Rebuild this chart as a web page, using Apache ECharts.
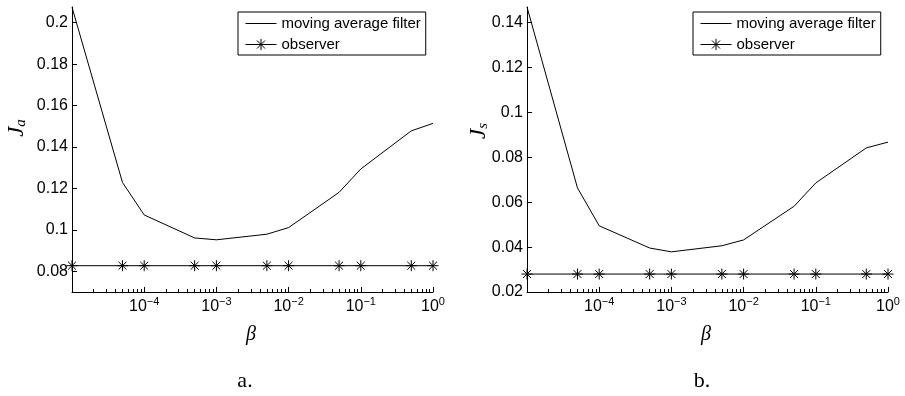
<!DOCTYPE html>
<html>
<head>
<meta charset="utf-8">
<script src="https://cdn.jsdelivr.net/npm/echarts@6/dist/echarts.min.js"></script>
<style>
  html, body { margin: 0; padding: 0; background: #fff; }
  #chart { width: 905px; height: 396px; }
</style>
</head>
<body>
<div id="chart"></div>
<script>
// beta values on the x axis (log scale)
var betas = [1e-5, 5e-5, 1e-4, 5e-4, 1e-3, 5e-3, 1e-2, 5e-2, 1e-1, 5e-1, 1];

// panel a: J_a
var maA = [0.2075, 0.1229, 0.1072, 0.0961, 0.0952, 0.0979, 0.1011, 0.1181, 0.1294, 0.1478, 0.1514];
var obsA = [0.0827, 0.0827, 0.0827, 0.0827, 0.0827, 0.0827, 0.0827, 0.0827, 0.0827, 0.0827, 0.0827];

// panel b: J_s
var maB = [0.147, 0.0664, 0.0495, 0.0396, 0.0379, 0.0406, 0.0432, 0.0582, 0.0686, 0.0842, 0.0868];
var obsB = [0.028, 0.028, 0.028, 0.028, 0.028, 0.028, 0.028, 0.028, 0.028, 0.028, 0.028];

var yTicksA = [0.08, 0.1, 0.12, 0.14, 0.16, 0.18, 0.2];
var yTicksB = [0.02, 0.04, 0.06, 0.08, 0.1, 0.12, 0.14];
var xMajor = [1e-5, 1e-4, 1e-3, 1e-2, 1e-1, 1];
var xLabels = [1e-4, 1e-3, 1e-2, 1e-1, 1];

var xMinor = [];
for (var k = -5; k < 0; k++) {
  for (var m = 2; m <= 9; m++) xMinor.push(m * Math.pow(10, k));
}

var sans = "'Liberation Sans', Arial, sans-serif";
var serif = "'Liberation Serif', 'Times New Roman', serif";

var chart = echarts.init(document.getElementById('chart'), null, { renderer: 'canvas' });

function majorX(grid) {
  return {
    type: 'log', logBase: 10, gridIndex: grid, position: 'bottom',
    min: 1e-5, max: 1,
    axisLine: { show: true, lineStyle: { color: '#000', width: 1 } },
    axisTick: { show: true, inside: true, length: 5, customValues: xMajor, lineStyle: { color: '#000' } },
    splitLine: { show: false },
    axisLabel: {
      show: true, margin: 4, customValues: xLabels,
      formatter: function (v) {
        var e = Math.round(Math.log10(v));
        return '{b|10}{e|' + (e < 0 ? '\u2212' + (-e) : e) + '}';
      },
      rich: {
        b: { fontFamily: sans, fontSize: 16, color: '#000', lineHeight: 16, padding: [5, 0, 0, 0] },
        e: { fontFamily: sans, fontSize: 11, color: '#000', lineHeight: 11, verticalAlign: 'top' }
      }
    }
  };
}

function minorX(grid) {
  return {
    type: 'log', logBase: 10, gridIndex: grid, position: 'bottom',
    min: 1e-5, max: 1,
    axisLine: { show: false },
    axisTick: { show: true, inside: true, length: 3, customValues: xMinor, lineStyle: { color: '#000' } },
    splitLine: { show: false },
    axisLabel: { show: false }
  };
}

function yAxis(grid, min, max, ticks) {
  return {
    type: 'value', gridIndex: grid, min: min, max: max,
    axisLine: { show: true, lineStyle: { color: '#000', width: 1 } },
    axisTick: { show: true, inside: true, length: 5, customValues: ticks, lineStyle: { color: '#000' } },
    splitLine: { show: false },
    axisLabel: {
      customValues: ticks, margin: 4,
      fontFamily: sans, fontSize: 16, color: '#000',
      formatter: function (v) { return String(Number(v.toFixed(2))); }
    }
  };
}

var star = 'path://M0,-5L0,5M-5,0L5,0M-3.6,-3.6L3.6,3.6M-3.6,3.6L3.6,-3.6';

function maSeries(name, x, y, data) {
  return {
    name: name, type: 'line', xAxisIndex: x, yAxisIndex: y,
    data: betas.map(function (b, i) { return [b, data[i]]; }),
    symbol: 'none', lineStyle: { color: '#000', width: 1 }, itemStyle: { color: '#000' }
  };
}

function obsSeries(name, x, y, data) {
  return {
    name: name, type: 'line', xAxisIndex: x, yAxisIndex: y,
    data: betas.map(function (b, i) { return [b, data[i]]; }),
    symbol: star, symbolSize: 11, showSymbol: true,
    lineStyle: { color: '#000', width: 1 },
    itemStyle: { color: '#000', borderColor: '#000', borderWidth: 1 }
  };
}

function legend(left, top) {
  return {
    left: left, top: top, orient: 'vertical',
    padding: [4, 5, 3, 7], itemGap: 6, itemWidth: 31, itemHeight: 14,
    borderColor: '#000', borderWidth: 1, backgroundColor: '#fff',
    textStyle: { fontFamily: sans, fontSize: 15, color: '#000' },
    lineStyle: { width: 1 },
    data: [
      { name: 'moving average filter', itemStyle: { opacity: 0 }, lineStyle: { width: 1 } },
      { name: 'observer', lineStyle: { width: 1 }, itemStyle: { borderWidth: 1 } }
    ]
  };
}

var option = {
  animation: false,
  backgroundColor: '#fff',
  grid: [
    { left: 72, top: 7, width: 361, height: 285 },
    { left: 527, top: 7, width: 361, height: 285 }
  ],
  xAxis: [majorX(0), minorX(0), majorX(1), minorX(1)],
  yAxis: [yAxis(0, 0.07, 0.2076, yTicksA), yAxis(1, 0.02, 0.147, yTicksB)],
  legend: [legend(238, 12), legend(693, 12)],
  series: [
    maSeries('moving average filter', 0, 0, maA),
    obsSeries('observer', 0, 0, obsA),
    maSeries('moving average filter', 2, 1, maB),
    obsSeries('observer', 2, 1, obsB)
  ],
  graphic: [
    { type: 'text', x: 17, y: 128, rotation: Math.PI / 2,
      style: { text: '{j|J}{s|a}', align: 'center', verticalAlign: 'middle',
        rich: { j: { fontFamily: serif, fontStyle: 'italic', fontSize: 23, fill: '#000' },
                s: { fontFamily: serif, fontStyle: 'italic', fontSize: 15, fill: '#000', padding: [8, 0, 0, 0] } } } },
    { type: 'text', x: 479, y: 131, rotation: Math.PI / 2,
      style: { text: '{j|J}{s|s}', align: 'center', verticalAlign: 'middle',
        rich: { j: { fontFamily: serif, fontStyle: 'italic', fontSize: 23, fill: '#000' },
                s: { fontFamily: serif, fontStyle: 'italic', fontSize: 15, fill: '#000', padding: [8, 0, 0, 0] } } } },
    { type: 'text', x: 251, y: 335,
      style: { text: '\u03b2', align: 'center', verticalAlign: 'middle', fontFamily: serif, fontStyle: 'italic', fontSize: 20, fill: '#000' } },
    { type: 'text', x: 706, y: 335,
      style: { text: '\u03b2', align: 'center', verticalAlign: 'middle', fontFamily: serif, fontStyle: 'italic', fontSize: 20, fill: '#000' } },
    { type: 'text', x: 245, y: 381,
      style: { text: 'a.', align: 'center', verticalAlign: 'middle', fontFamily: serif, fontSize: 22, fill: '#000' } },
    { type: 'text', x: 702, y: 381,
      style: { text: 'b.', align: 'center', verticalAlign: 'middle', fontFamily: serif, fontSize: 22, fill: '#000' } }
  ]
};

chart.setOption(option);
</script>
</body>
</html>
